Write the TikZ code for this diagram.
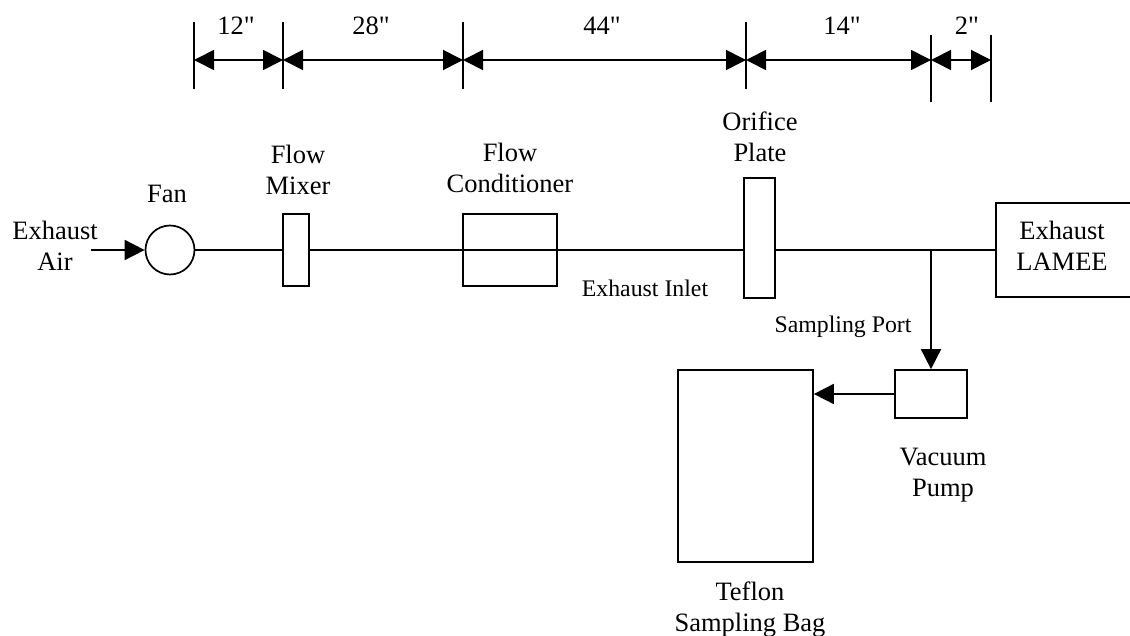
\documentclass[tikz,border=0pt]{standalone}
\usepackage{fontspec}
\setmainfont{Liberation Serif}
\newfontfamily\dimfont{Liberation Serif}[Mapping=]
\usetikzlibrary{arrows.meta}
\newcommand{\inch}{{\dimfont\symbol{34}}}
\begin{document}
\begin{tikzpicture}[x=1pt,y=-1pt,
  line width=1.7pt,
  >={Triangle[length=20pt,width=20pt]},
  lbl/.style={font=\fontsize{26.5}{31}\selectfont, align=center, inner sep=0pt},
  small/.style={font=\fontsize{23.8}{28}\selectfont, align=center, inner sep=0pt},
  comp/.style={draw, rectangle, inner sep=0pt, line width=1.7pt},
  tick/.style={line width=1.7pt},
  dim/.style={<->, line width=1.7pt}]
\useasboundingbox (0,0) rectangle (1130,636);

% dimension ticks
\coordinate (t1a) at (194,22);  \coordinate (t1b) at (194,89);
\coordinate (t2a) at (283,22);  \coordinate (t2b) at (283,89);
\coordinate (t3a) at (463,22);  \coordinate (t3b) at (463,89);
\coordinate (t4a) at (746,22);  \coordinate (t4b) at (746,89);
\coordinate (t5a) at (931,35);  \coordinate (t5b) at (931,102);
\coordinate (t6a) at (991,35);  \coordinate (t6b) at (991,102);
\foreach \i in {1,...,6} \draw[tick] (t\i a) -- (t\i b);
\coordinate (d1) at (194,60);
\coordinate (d2) at (283,60);
\coordinate (d3) at (463,60);
\coordinate (d4) at (746,60);
\coordinate (d5) at (931,60);
\coordinate (d6) at (991,60);
\draw[dim] (d1) -- (d2);
\draw[dim] (d2) -- (d3);
\draw[dim] (d3) -- (d4);
\draw[dim] (d4) -- (d5);
\draw[dim] (d5) -- (d6);
\node[lbl] (l12) at (236,26) {12\inch};
\node[lbl] (l28) at (371,26) {28\inch};
\node[lbl] (l44) at (602,26) {44\inch};
\node[lbl] (l14) at (842,26) {14\inch};
\node[lbl] (l2)  at (967,26) {2\inch};

% components
\coordinate (inlet) at (91,250);
\node[draw, circle, minimum size=49pt, inner sep=0pt] (fan) at (170,250) {};
\node[comp, minimum width=26pt, minimum height=72pt] (mixer) at (296,250) {};
\node[comp, minimum width=94pt, minimum height=72pt] (cond) at (510,250) {};
\node[comp, minimum width=31pt, minimum height=120pt] (orifice) at (759.5,238) {};
\node[comp, minimum width=150pt, minimum height=94pt] (lamee) at (1071,250) {};
\node[comp, minimum width=72pt, minimum height=48pt] (pump) at (931,394) {};
\node[comp, minimum width=135pt, minimum height=192pt] (bag) at (745.5,466) {};
\coordinate (branch) at (931,250);

% connectors
\draw[->] (inlet) -- (fan.west);
\draw (fan.east) -- (mixer.west);
\draw (mixer.east) -- (mixer.east -| orifice.west);
\draw (mixer.east -| orifice.east) -- (lamee.west);
\draw[->] (branch) -- (pump.north);
\draw[->] (pump.west) -- (pump.west -| bag.east);

% labels
\node[lbl] (tair) at (55,246) {Exhaust\\Air};
\node[lbl] (tfan) at (167,194) {Fan};
\node[lbl] (tmix) at (298,170) {Flow\\Mixer};
\node[lbl] (tcond) at (510,168) {Flow\\Conditioner};
\node[lbl] (torif) at (760,137) {Orifice\\Plate};
\node[small] (tinlet) at (645,288) {Exhaust Inlet};
\node[small] (tport) at (843,327) {Sampling Port};
\node[lbl] (tlamee) at (1062,246) {Exhaust\\LAMEE};
\node[lbl] (tpump) at (943,475) {Vacuum\\Pump};
\node[lbl] (tbag) at (750,610) {Teflon\\Sampling Bag};
\end{tikzpicture}
\end{document}
